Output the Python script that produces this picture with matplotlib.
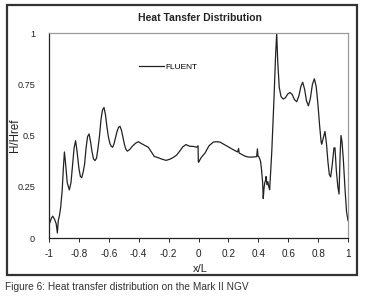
import matplotlib
matplotlib.use("Agg")
import matplotlib.pyplot as plt
from matplotlib.patches import Rectangle

plt.rcParams['font.family'] = ['Liberation Sans', 'DejaVu Sans']

x_over_L = [-1.0, -0.985, -0.975, -0.962, -0.952, -0.944, -0.938, -0.93, -0.922, -0.912,
            -0.904, -0.897, -0.89, -0.878, -0.864, -0.853, -0.842, -0.832, -0.822, -0.812,
            -0.8, -0.79, -0.781, -0.772, -0.762, -0.752, -0.742, -0.732, -0.722, -0.712,
            -0.702, -0.692, -0.682, -0.672, -0.662, -0.652, -0.642, -0.632, -0.622, -0.612,
            -0.602, -0.592, -0.583, -0.574, -0.565, -0.555, -0.545, -0.535, -0.525, -0.515,
            -0.505, -0.495, -0.485, -0.476, -0.46, -0.44, -0.42, -0.403, -0.385, -0.36,
            -0.336, -0.315, -0.296, -0.27, -0.245, -0.217, -0.19, -0.165, -0.146, -0.125,
            -0.105, -0.084, -0.06, -0.035, -0.012, -0.003, -0.001, 0.003, 0.008, 0.02,
            0.043, 0.07, 0.099, 0.12, 0.144, 0.175, 0.211, 0.24, 0.262, 0.268,
            0.272, 0.29, 0.31, 0.333, 0.36, 0.389, 0.394, 0.398, 0.405, 0.415,
            0.422, 0.429, 0.433, 0.438, 0.443, 0.448, 0.452, 0.458, 0.464, 0.47,
            0.476, 0.49, 0.505, 0.515, 0.523, 0.53, 0.54, 0.552, 0.567, 0.582,
            0.597, 0.612, 0.627, 0.642, 0.657, 0.672, 0.685, 0.697, 0.71, 0.722,
            0.735, 0.748, 0.762, 0.775, 0.787, 0.798, 0.81, 0.82, 0.824, 0.835,
            0.846, 0.856, 0.866, 0.875, 0.884, 0.895, 0.906, 0.913, 0.922, 0.932,
            0.94, 0.947, 0.953, 0.96, 0.969, 0.98, 0.99, 1.0]

h_over_href = [0.065, 0.095, 0.107, 0.09, 0.07, 0.025, 0.085, 0.11, 0.15, 0.23,
               0.34, 0.42, 0.37, 0.27, 0.235, 0.27, 0.36, 0.44, 0.475, 0.42,
               0.34, 0.3, 0.295, 0.32, 0.36, 0.44, 0.495, 0.508, 0.47, 0.42,
               0.385, 0.378, 0.39, 0.44, 0.5, 0.58, 0.625, 0.637, 0.6, 0.54,
               0.49, 0.46, 0.447, 0.443, 0.46, 0.49, 0.52, 0.54, 0.545, 0.525,
               0.49, 0.455, 0.432, 0.424, 0.432, 0.45, 0.463, 0.47, 0.462, 0.452,
               0.443, 0.42, 0.398, 0.392, 0.385, 0.379, 0.385, 0.395, 0.405, 0.425,
               0.445, 0.456, 0.448, 0.447, 0.443, 0.45, 0.37, 0.372, 0.38, 0.395,
               0.414, 0.45, 0.468, 0.47, 0.468, 0.455, 0.44, 0.428, 0.42, 0.437,
               0.415, 0.408, 0.4, 0.395, 0.395, 0.397, 0.435, 0.4, 0.395, 0.375,
               0.33, 0.27, 0.193, 0.24, 0.27, 0.28, 0.3, 0.26, 0.275, 0.25,
               0.236, 0.42, 0.68, 0.88, 1.0, 0.86, 0.735, 0.69, 0.678, 0.685,
               0.703, 0.71, 0.7, 0.675, 0.665, 0.695, 0.74, 0.76, 0.725, 0.67,
               0.645, 0.68, 0.75, 0.777, 0.74, 0.66, 0.55, 0.47, 0.458, 0.49,
               0.52, 0.46, 0.37, 0.31, 0.298, 0.36, 0.44, 0.44, 0.33, 0.25,
               0.215, 0.4, 0.5, 0.47, 0.38, 0.24, 0.13, 0.085]

x_ticks = [-1, -0.8, -0.6, -0.4, -0.2, 0, 0.2, 0.4, 0.6, 0.8, 1]
x_tick_labels = ['-1', '-0.8', '-0.6', '-0.4', '-0.2', '0', '0.2', '0.4', '0.6', '0.8', '1']
y_ticks = [0, 0.25, 0.5, 0.75, 1]
y_tick_labels = ['0', '0.25', '0.5', '0.75', '1']

fig = plt.figure(figsize=(3.69, 3.06), dpi=100)
fig.patch.set_facecolor('white')

# outer chart frame
fig.patches.append(Rectangle((0.019, 0.101), 0.948, 0.882, transform=fig.transFigure,
                             fill=False, edgecolor='#333333', linewidth=1.6))

ax = fig.add_axes([0.1328, 0.222, 0.8103, 0.670])
ax.plot(x_over_L, h_over_href, color='#222222', linewidth=0.9, label='FLUENT')
ax.set_xlim(-1, 1)
ax.set_ylim(0, 1)
ax.set_xticks(x_ticks)
ax.set_xticklabels(x_tick_labels)
ax.set_yticks(y_ticks)
ax.set_yticklabels(y_tick_labels)
ax.tick_params(axis='x', labelsize=7.2, length=3, width=0.7, colors='#222222', pad=5)
ax.tick_params(axis='y', labelsize=6.6, length=0, colors='#222222', pad=10)
for s in ['left', 'bottom']:
    ax.spines[s].set_color('#222222')
    ax.spines[s].set_linewidth(0.9)
for s in ['top', 'right']:
    ax.spines[s].set_color('#999999')
    ax.spines[s].set_linewidth(0.9)

ax.set_xlabel('x/L', fontsize=8, color='#222222')
ax.xaxis.set_label_coords(0.505, -0.125)
ax.set_ylabel('H/Href', fontsize=8.3, color='#222222')
ax.yaxis.set_label_coords(-0.094, 0.5)

ax.legend(loc='upper left', bbox_to_anchor=(0.29, 0.87), frameon=False, fontsize=6,
          handlelength=3.0, handletextpad=0.2, borderaxespad=0)

fig.text(0.542, 0.942, 'Heat Tansfer Distribution', ha='center', va='center',
         fontsize=7.5, fontweight='bold', color='#222222')
fig.text(0.014, 0.062, 'Figure 6: Heat transfer distribution on the Mark II NGV',
         ha='left', va='center', fontsize=7.3, color='#333333')

fig.savefig('out.png', dpi=100)
